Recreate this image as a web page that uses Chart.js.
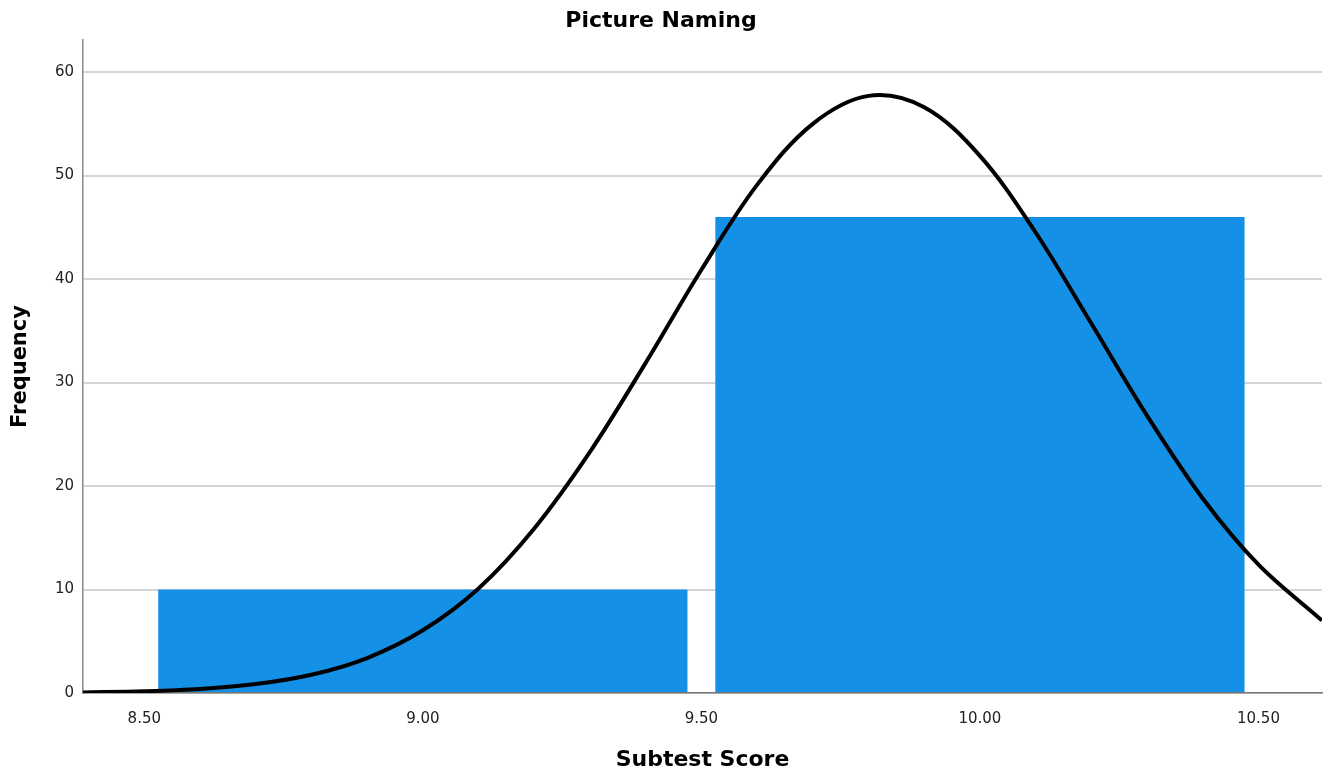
<!DOCTYPE html>
<html>
<head>
<meta charset="utf-8">
<title>Picture Naming</title>
<script src="https://cdn.jsdelivr.net/npm/chart.js@4"></script>
<style>
	html, body { margin:0; padding:0; background:#fff; }
	#wrap { width:1328px; height:779px; }
</style>
</head>
<body>
<div id="wrap"><canvas id="chart" width="1328" height="779"></canvas></div>
<script>
// histogram bins (bin centres) and counts
const binCenters = [9, 10];
const binCounts = [10, 46];

// normal curve
const curveX = [8.39, 8.5, 8.6, 8.7, 8.8, 8.9, 9.0, 9.1, 9.2, 9.3, 9.4, 9.5, 9.6, 9.7, 9.8, 9.9, 10.0, 10.1, 10.2, 10.3, 10.4, 10.5, 10.614];
const curveY = [0.06, 0.17, 0.39, 0.86, 1.76, 3.38, 6.06, 10.1, 15.9, 23.3, 31.9, 40.9, 49.1, 55.0, 57.7, 56.6, 51.9, 44.5, 35.7, 26.8, 18.8, 12.4, 7.0];

// axis ticks
const xTicks = [8.5, 9.0, 9.5, 10.0, 10.5];
const yTicks = [0, 10, 20, 30, 40, 50, 60];

(function(){
	const FONT = "'DejaVu Sans', Arial, sans-serif";
	const bars = binCenters.map((c, i) => ({ x: c, y: binCounts[i] }));
	const curve = curveX.map((x, i) => ({ x: x, y: curveY[i] }));

	new Chart(document.getElementById('chart').getContext('2d'), {
		type: 'bar',
		data: {
			datasets: [
				{
					type: 'line',
					data: curve,
					borderColor: '#000',
					borderWidth: 4,
					pointRadius: 0,
					tension: 0.35,
					order: 0
				},
				{
					type: 'bar',
					data: bars,
					backgroundColor: '#1490E6',
					borderWidth: 0,
					// bar width is based on the 0.5 tick gap, so 1.9 gives 0.95 of a bin
					categoryPercentage: 1,
					barPercentage: 1.9,
					order: 1
				}
			]
		},
		options: {
			responsive: false,
			animation: false,
			layout: { padding: { left: 0, right: 6, top: 0, bottom: 0 } },
			plugins: {
				legend: { display: false },
				tooltip: { enabled: false },
				title: {
					display: true,
					text: 'Picture Naming',
					color: '#000',
					font: { family: FONT, size: 22, weight: 'bold' },
					padding: { top: 8, bottom: 5.6 }
				}
			},
			scales: {
				x: {
					type: 'linear',
					min: 8.39,
					max: 10.614,
					offset: false,
					grid: { display: false, offset: false },
					border: { display: true, color: '#777', width: 1.5 },
					afterBuildTicks: s => { s.ticks = xTicks.map(v => ({ value: v })); },
					afterFit: s => { s.height = 86; },
					ticks: {
						color: '#222',
						padding: 9,
						maxRotation: 0,
						font: { family: FONT, size: 15 },
						callback: v => Number(v).toFixed(2)
					},
					title: {
						display: true,
						text: 'Subtest Score',
						color: '#000',
						font: { family: FONT, size: 22, weight: 'bold' },
						padding: { top: 6, bottom: 6 }
					}
				},
				y: {
					min: 0,
					max: 63.1,
					grid: { color: '#d6d6d6', lineWidth: 2, drawTicks: false },
					border: { display: true, color: '#888', width: 1.5 },
					afterBuildTicks: s => { s.ticks = yTicks.map(v => ({ value: v })); },
					afterFit: s => { s.width = 83; },
					ticks: {
						color: '#222',
						padding: 9,
						font: { family: FONT, size: 15 }
					},
					title: {
						display: true,
						text: 'Frequency',
						color: '#000',
						font: { family: FONT, size: 21, weight: 'bold' },
						padding: { top: 8, bottom: 4 }
					}
				}
			}
		}
	});
})();
</script>
</body>
</html>
